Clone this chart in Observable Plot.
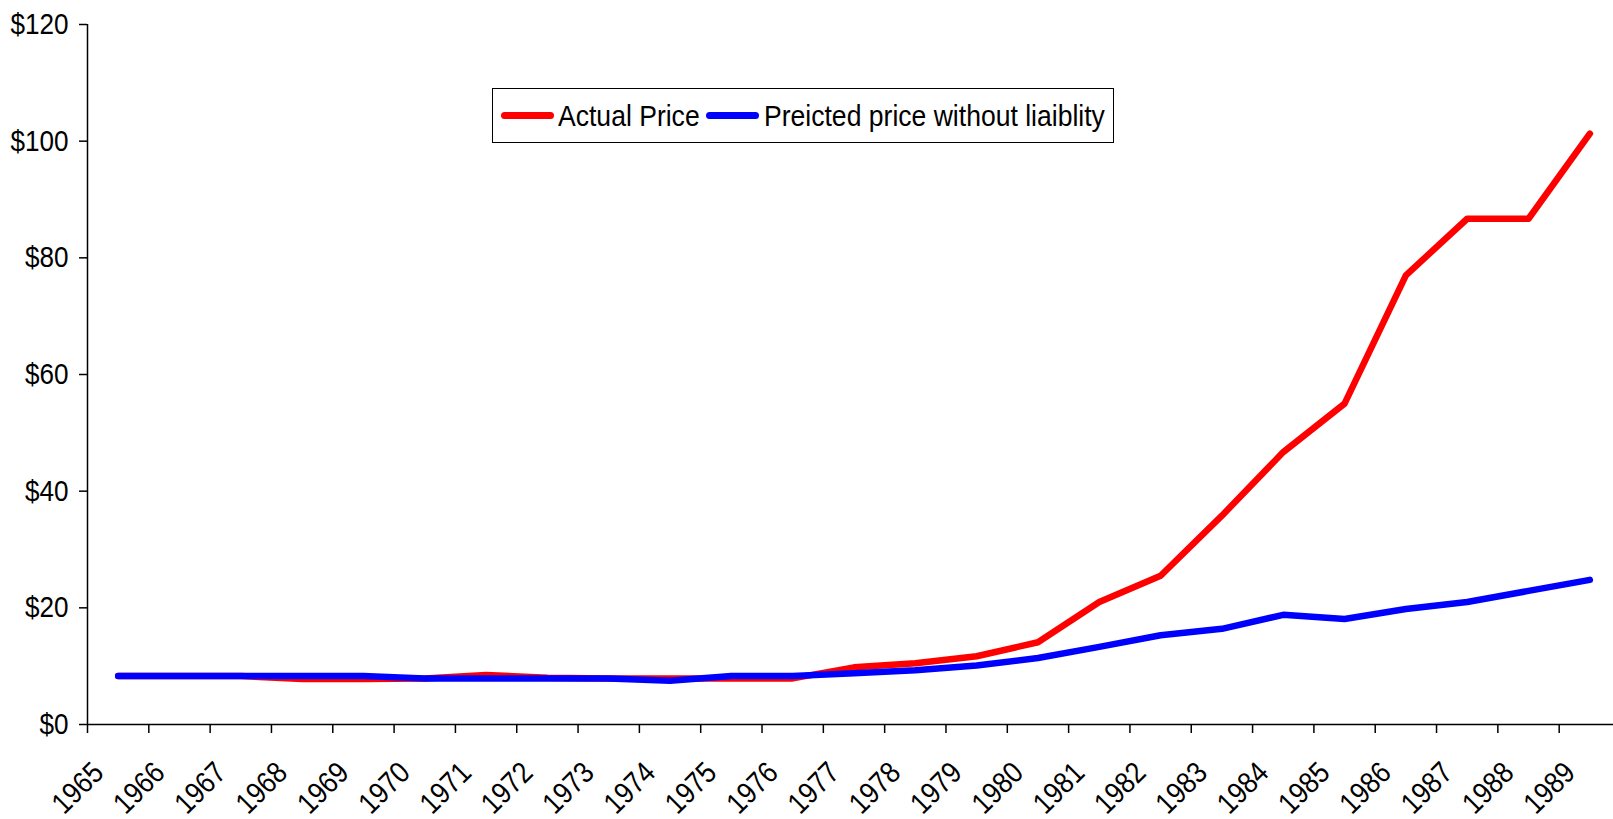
<!DOCTYPE html>
<html>
<head>
<meta charset="utf-8">
<script src="https://cdn.jsdelivr.net/npm/d3@7"></script>
<script src="https://cdn.jsdelivr.net/npm/@observablehq/plot@0.6"></script>
<style>
  html, body { margin: 0; padding: 0; background: #fff; overflow: hidden; }
  #wrap { position: relative; width: 1613px; height: 819px; overflow: hidden; }
  #legend {
    position: absolute; left: 492px; top: 88px; width: 622px; height: 55px;
    box-sizing: border-box; border: 1.5px solid #000; background: #fff;
    display: flex; align-items: center; font-family: "Liberation Sans", Arial, sans-serif;
    font-size: 30px; color: #000; white-space: nowrap; padding-left: 7.5px;
  }
  .sw { display: inline-block; width: 53px; height: 6.5px; border-radius: 3.5px; flex: none; }
  .lt { display: inline-block; transform-origin: 0 50%; flex: none; }
</style>
</head>
<body>
<div id="wrap">
  <div id="chart"></div>
  <div id="legend"></div>
</div>
<script>
const years = [1965,1966,1967,1968,1969,1970,1971,1972,1973,1974,1975,1976,1977,1978,1979,1980,1981,1982,1983,1984,1985,1986,1987,1988,1989];
const actualPrice = [8.3,8.3,8.3,7.8,7.8,7.9,8.5,8.0,7.9,7.9,7.9,7.9,9.8,10.5,11.7,14.1,21.0,25.5,35.8,46.7,55.0,77.0,86.7,86.7,101.3];
const predictedPrice = [8.3,8.3,8.3,8.3,8.3,7.9,7.9,7.9,7.9,7.5,8.3,8.3,8.8,9.3,10.1,11.4,13.3,15.3,16.4,18.8,18.1,19.8,21.0,22.9,24.8];
const seriesNames = ["Actual Price", "Preicted price without liaiblity"];
const seriesColors = ["#ff0000", "#0000ff"];
const yTicks = [0,20,40,60,80,100,120];

const squeeze = 0.87;       // horizontal compression of the axis text face
const legendSqueeze = 0.885; // horizontal compression of the legend text face

const boundaries = years.concat([years[years.length-1] + 1]);
const rows = [];
years.forEach((y, i) => rows.push({year: y, value: actualPrice[i], series: seriesNames[0]}));
years.forEach((y, i) => rows.push({year: y, value: predictedPrice[i], series: seriesNames[1]}));

const font = "'Liberation Sans', Arial, sans-serif";
const chart = Plot.plot({
  width: 1620,
  height: 819,
  marginLeft: 87,
  marginRight: 0,
  marginTop: 24,
  marginBottom: 95,
  style: {fontFamily: font, fontSize: "30px", maxWidth: "none", background: "#fff"},
  x: {domain: [boundaries[0], boundaries[boundaries.length-1]], axis: null},
  y: {domain: [0, 120], axis: null},
  color: {domain: seriesNames, range: seriesColors},
  marks: [
    Plot.axisY({ticks: yTicks, tickSize: 8, tickPadding: 11, tickFormat: d => "$" + d, label: null, fontSize: 30, strokeWidth: 1.5}),
    Plot.axisX({ticks: boundaries, tickSize: 9, tickFormat: () => "", label: null, strokeWidth: 1.5}),
    Plot.text(years, {x: d => d + 0.5, frameAnchor: "bottom", dy: 50, dx: -13, rotate: -45, textAnchor: "end", text: d => String(d), fontSize: 30}),
    Plot.ruleX([boundaries[0]], {stroke: "#000", strokeWidth: 1.5}),
    Plot.ruleY([0], {stroke: "#000", strokeWidth: 1.5}),
    Plot.line(rows, {x: d => d.year + 0.5, y: "value", z: "series", stroke: "series", strokeWidth: 6.5, strokeLinecap: "round", strokeLinejoin: "round"})
  ]
});
document.getElementById("chart").appendChild(chart);

// condense the text horizontally around each label's anchor
chart.querySelectorAll("text").forEach(t => {
  let tr = t.getAttribute("transform");
  if (!tr) {
    const x = t.getAttribute("x") || 0, y = t.getAttribute("y") || 0;
    t.removeAttribute("x"); t.removeAttribute("y");
    tr = `translate(${x},${y})`;
  }
  t.setAttribute("transform", tr + ` scale(${squeeze},1)`);
});

const legend = document.getElementById("legend");
const gapsBefore = [0, 7];
const gapsAfter = [4, 5];
seriesNames.forEach((name, i) => {
  const sw = document.createElement("span");
  sw.className = "sw";
  sw.style.background = seriesColors[i];
  sw.style.marginLeft = gapsBefore[i] + "px";
  sw.style.marginRight = gapsAfter[i] + "px";
  legend.appendChild(sw);
  const t = document.createElement("span");
  t.className = "lt";
  t.textContent = name;
  legend.appendChild(t);
  const w = t.getBoundingClientRect().width;
  t.style.transform = `scaleX(${legendSqueeze})`;
  t.style.marginRight = (-w * (1 - legendSqueeze)) + "px";
});
</script>
</body>
</html>
